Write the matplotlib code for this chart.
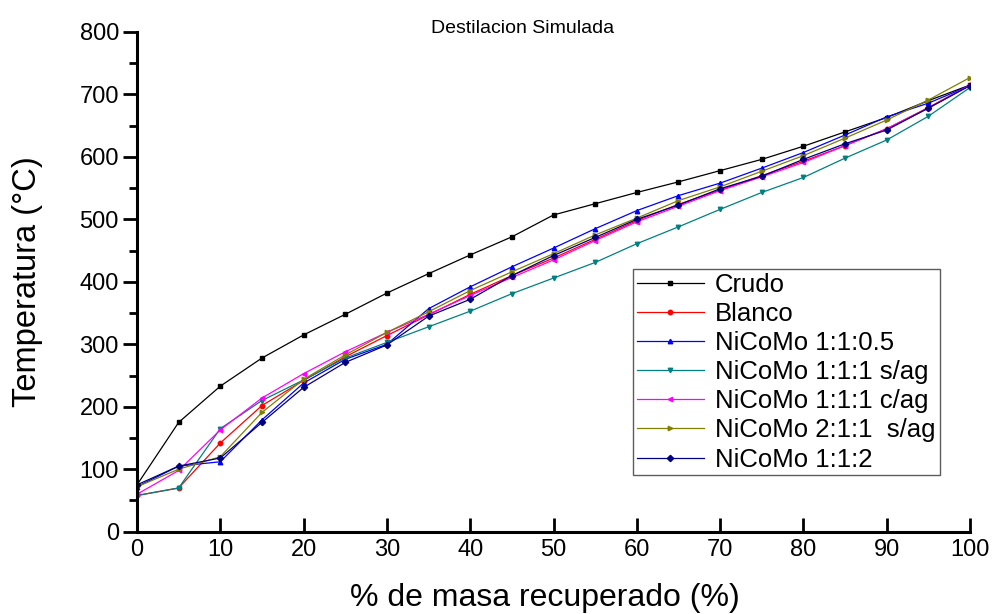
import matplotlib
matplotlib.use("Agg")
import matplotlib.pyplot as plt
from matplotlib.ticker import MultipleLocator

plt.rcParams["font.family"] = ["Liberation Sans", "DejaVu Sans"]

# % de masa recuperado
masa = [0, 5, 10, 15, 20, 25, 30, 35, 40, 45, 50, 55, 60, 65, 70, 75, 80, 85, 90, 95, 100]

crudo = [75, 175, 233, 278, 315, 348, 382, 413, 443, 472, 507, 525, 543, 560, 578, 596, 617, 640, 663, 690, 715]
blanco = [58, 70, 142, 202, 242, 280, 314, 347, 380, 410, 438, 468, 498, 524, 547, 570, 593, 618, 645, 679, 715]
nicomo_05 = [72, 105, 112, 179, 238, 276, 300, 357, 392, 424, 454, 485, 514, 538, 558, 582, 607, 635, 664, 686, 714]
nicomo_1_sag = [58, 70, 165, 210, 243, 278, 303, 328, 353, 381, 406, 431, 461, 488, 516, 543, 567, 598, 627, 665, 711]
nicomo_1_cag = [60, 98, 163, 214, 253, 288, 319, 348, 378, 407, 435, 466, 496, 521, 546, 568, 591, 618, 645, 678, 715]
nicomo_211 = [72, 100, 120, 191, 244, 283, 319, 352, 386, 416, 445, 475, 502, 530, 552, 577, 602, 630, 659, 691, 727]
nicomo_2 = [75, 105, 118, 175, 231, 271, 299, 345, 372, 410, 442, 471, 500, 523, 549, 569, 596, 621, 643, 678, 714]

series = [
    ("Crudo", crudo, "black", "s"),
    ("Blanco", blanco, "red", "o"),
    ("NiCoMo 1:1:0.5", nicomo_05, "blue", "^"),
    ("NiCoMo 1:1:1 s/ag", nicomo_1_sag, "#008080", "v"),
    ("NiCoMo 1:1:1 c/ag", nicomo_1_cag, "magenta", "<"),
    ("NiCoMo 2:1:1  s/ag", nicomo_211, "#808000", ">"),
    ("NiCoMo 1:1:2", nicomo_2, "#000080", "D"),
]

fig = plt.figure(figsize=(10, 6.14), dpi=100)
ax = fig.add_axes([0.137, 0.134, 0.833, 0.814])

for name, vals, col, mk in series:
    ax.plot(masa, vals, color=col, marker=mk, markersize=3.2, linewidth=0.9, label=name)

ax.set_xlim(0, 100)
ax.set_ylim(0, 800)
ax.xaxis.set_major_locator(MultipleLocator(10))
ax.yaxis.set_major_locator(MultipleLocator(100))
ax.yaxis.set_minor_locator(MultipleLocator(50))

for side in ("top", "right"):
    ax.spines[side].set_visible(False)
for side in ("left", "bottom"):
    ax.spines[side].set_linewidth(2.2)

ax.tick_params(axis="y", which="major", direction="out", length=10, width=2, labelsize=17, pad=3)
ax.tick_params(axis="y", which="minor", direction="out", length=6, width=2)
ax.tick_params(axis="x", which="major", direction="in", length=10, width=2, labelsize=17, pad=5)

ax.set_xlabel("% de masa recuperado (%)", fontsize=23, va="center")
ax.set_ylabel("Temperatura (°C)", fontsize=23.5)
ax.xaxis.set_label_coords(0.49, -0.132)
ax.yaxis.set_label_coords(-0.113, 0.5)
fig.text(0.523, 0.953, "Destilacion Simulada", fontsize=14, ha="center", va="center")

leg = ax.legend(loc="upper left", bbox_to_anchor=(0.633, 0.562),
                bbox_transform=fig.transFigure, borderaxespad=0, fontsize=18.5,
                frameon=True, fancybox=False, edgecolor="#333333",
                handlelength=2.6, handletextpad=0.45, labelspacing=0.2,
                borderpad=0.15)
leg.get_frame().set_linewidth(1.0)

fig.savefig("out.png", dpi=100)
